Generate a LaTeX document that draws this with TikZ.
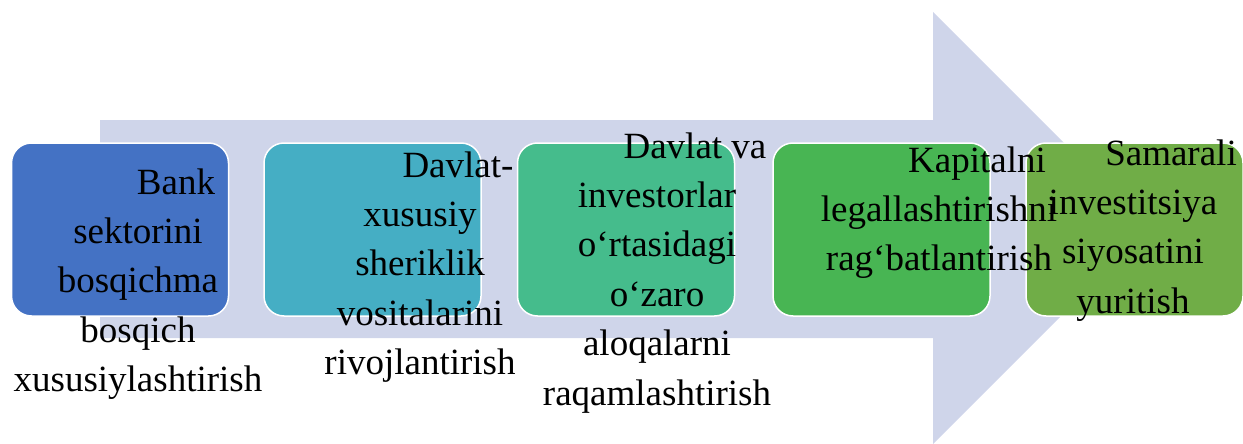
\documentclass[tikz,border=0pt]{standalone}
\usepackage{fontspec}
\setmainfont{Liberation Serif}
\usepackage{xcolor}
\usetikzlibrary{shapes,positioning}
\definecolor{ArrowBlue}{HTML}{CFD5EA}
\definecolor{StageOne}{HTML}{4472C4}
\definecolor{StageTwo}{HTML}{45AEC4}
\definecolor{StageThree}{HTML}{45BC8C}
\definecolor{StageFour}{HTML}{48B553}
\definecolor{StageFive}{HTML}{70AD47}
\newcommand{\firstind}{\hspace*{76pt}}

\begin{document}
\begin{tikzpicture}[
  x=1pt, y=-1pt,
  stage/.style={rectangle, rounded corners=20pt, draw=white, line width=1.5pt, fill=#1, minimum width=217pt, minimum height=173pt},
  stagetext/.style={align=center, inner sep=0pt, anchor=north, font=\fontsize{37}{49.4}\selectfont}
]
\useasboundingbox (0,0) rectangle (1243,444);

% Background arrow
\fill[ArrowBlue] (100,120) -- (933,120) -- (933,12) -- (1149,228) -- (933,444) -- (933,338) -- (100,338) -- cycle;

% Stage boxes
\node[stage=StageOne] (bank) at (120,229.5) {};
\node[stage=StageTwo] (ppp) at (372.5,229.5) {};
\node[stage=StageThree] (digital) at (626,229.5) {};
\node[stage=StageFour] (legal) at (881.5,229.5) {};
\node[stage=StageFive] (invest) at (1134.5,229.5) {};

% Stage texts
\node[stagetext] (bank-text) at (138,159.4) {\strut\firstind Bank\\sektorini\\bosqichma\\bosqich\\xususiylashtirish};
\node[stagetext] (ppp-text) at (420,142.4) {\strut\firstind Davlat-\\xususiy\\sheriklik\\vositalarini\\rivojlantirish};
\node[stagetext] (digital-text) at (657,123.4) {\strut\firstind Davlat va\\investorlar\\o‘rtasidagi\\o‘zaro\\aloqalarni\\raqamlashtirish};
\node[stagetext] (legal-text) at (939,137.4) {\strut\firstind Kapitalni\\legallashtirishni\\rag‘batlantirish};
\node[stagetext] (invest-text) at (1133,130.4) {\strut\firstind Samarali\\investitsiya\\siyosatini\\yuritish};

\end{tikzpicture}
\end{document}
